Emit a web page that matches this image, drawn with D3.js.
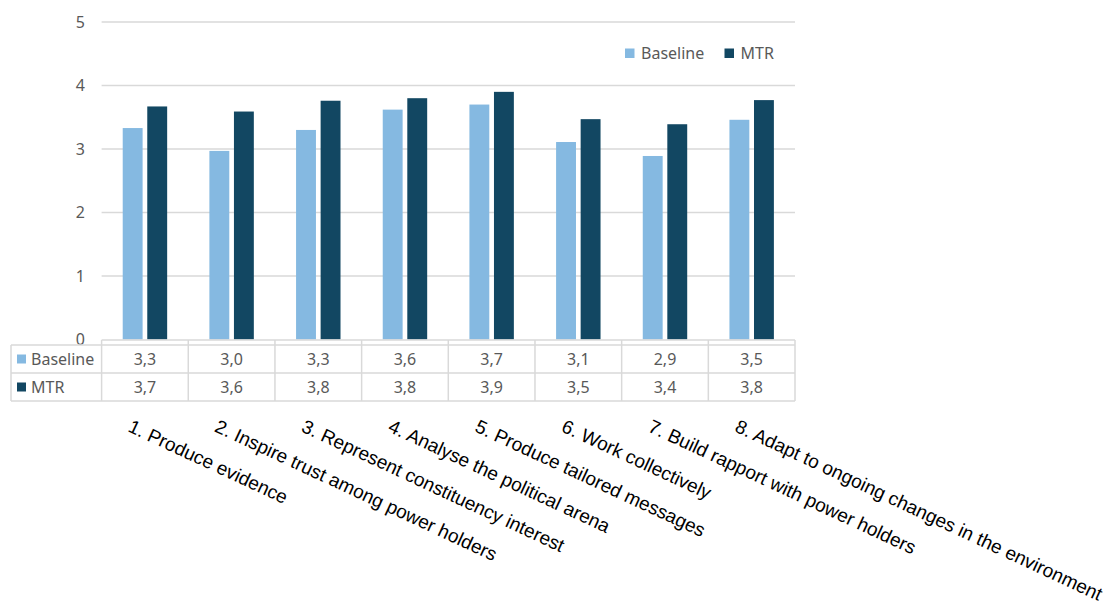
<!DOCTYPE html>
<html>
<head>
  <meta charset="utf-8">
  <title>Baseline vs MTR</title>
  <script src="https://d3js.org/d3.v7.min.js"></script>
  <style>
    body, html {
      margin: 0;
      padding: 0;
      background: #fff;
    }
    svg {
      display: block;
    }
    .tick-label, .cell, .legend-text {
      font-family: "Noto Sans", "Open Sans", sans-serif;
      fill: #595959;
    }
    .cat-label {
      font-family: "Liberation Sans", Arial, sans-serif;
      font-size: 19px;
      fill: #000;
    }
    .grid, .tbl {
      stroke: #d9d9d9;
      stroke-width: 1.5px;
      fill: none;
    }
  </style>
</head>
<body>
<svg width="1117" height="608"></svg>
<script>
  // Categories (x axis) and the two series
  const categories = [
    "1. Produce evidence",
    "2. Inspire trust among power holders",
    "3. Represent constituency interest",
    "4. Analyse the political arena",
    "5. Produce tailored messages",
    "6. Work collectively",
    "7. Build rapport with power holders",
    "8. Adapt to ongoing changes in the environment"
  ];
  const seriesNames = ["Baseline", "MTR"];
  const baseline = [3.33, 2.97, 3.30, 3.62, 3.70, 3.11, 2.89, 3.46];
  const mtr = [3.67, 3.59, 3.76, 3.80, 3.90, 3.47, 3.39, 3.77];
  const yTicks = [0, 1, 2, 3, 4, 5];
  const colors = ["#85b9e1", "#124762"];

  const seriesValues = [baseline, mtr];

  const svg = d3.select("svg");

  // plot area
  const plotLeft = 101.6, plotRight = 795, plotTop = 22, plotBottom = 339.5;
  const tableLeft = 11;
  const rowTop = 345, rowH = 28;

  const x = d3.scaleBand().domain(categories).range([plotLeft, plotRight]);
  const x1 = d3.scaleBand().domain(seriesNames)
    .range([0, x.bandwidth()])
    .paddingInner(0.19)
    .paddingOuter(0.86);
  const y = d3.scaleLinear().domain([0, 5]).range([plotBottom, plotTop]);

  // gridlines
  svg.append("g").selectAll("line")
    .data(yTicks.filter(d => d > 0))
    .join("line")
    .attr("class", "grid")
    .attr("x1", plotLeft).attr("x2", plotRight)
    .attr("y1", d => y(d)).attr("y2", d => y(d));

  // y tick labels
  svg.append("g").selectAll("text")
    .data(yTicks)
    .join("text")
    .attr("class", "tick-label")
    .attr("x", 85)
    .attr("y", d => y(d))
    .attr("dy", "0.35em")
    .attr("text-anchor", "end")
    .style("font-size", "16px")
    .text(d => d);

  // bars
  seriesNames.forEach((s, si) => {
    svg.append("g").selectAll("rect")
      .data(seriesValues[si])
      .join("rect")
      .attr("x", (d, i) => x(categories[i]) + x1(s))
      .attr("width", x1.bandwidth())
      .attr("y", d => y(d))
      .attr("height", d => y(0) - y(d))
      .attr("fill", colors[si]);
  });

  // data table under the plot
  const tbl = svg.append("g");
  // axis line and little category separators
  tbl.append("line").attr("class", "tbl")
    .attr("x1", plotLeft).attr("x2", plotRight)
    .attr("y1", plotBottom + 0.5).attr("y2", plotBottom + 0.5);
  // horizontal row lines
  [0, 1, 2].forEach(r => {
    tbl.append("line").attr("class", "tbl")
      .attr("x1", tableLeft).attr("x2", plotRight)
      .attr("y1", rowTop + r * rowH).attr("y2", rowTop + r * rowH);
  });
  // vertical lines
  const colEdges = categories.map(c => x(c)).concat([plotRight]);
  tbl.selectAll(".vline")
    .data(colEdges)
    .join("line")
    .attr("class", "tbl")
    .attr("x1", d => d).attr("x2", d => d)
    .attr("y1", plotBottom + 0.5).attr("y2", rowTop + 2 * rowH);
  tbl.append("line").attr("class", "tbl")
    .attr("x1", tableLeft).attr("x2", tableLeft)
    .attr("y1", rowTop).attr("y2", rowTop + 2 * rowH);

  const fmt = v => d3.format(".1f")(v).replace(".", ",");

  seriesNames.forEach((s, si) => {
    const cy = rowTop + si * rowH + rowH / 2;
    tbl.append("rect")
      .attr("x", 17).attr("y", cy - 4.5)
      .attr("width", 9).attr("height", 9)
      .attr("fill", colors[si]);
    tbl.append("text")
      .attr("class", "cell")
      .attr("x", 31).attr("y", cy)
      .attr("dy", "0.35em")
      .style("font-size", "16px")
      .text(s);
    tbl.selectAll(".v" + si)
      .data(seriesValues[si])
      .join("text")
      .attr("class", "cell")
      .attr("x", (d, i) => x(categories[i]) + x.bandwidth() / 2)
      .attr("y", cy)
      .attr("dy", "0.35em")
      .attr("text-anchor", "middle")
      .style("font-size", "16px")
      .text(d => fmt(d));
  });

  // rotated category labels
  svg.append("g").selectAll("text")
    .data(categories)
    .join("text")
    .attr("class", "cat-label")
    .attr("transform", d => `translate(${x(d) + x.bandwidth() / 2 - 18},431) rotate(25)`)
    .text(d => d);

  // legend
  const legend = svg.append("g");
  const legendX = [625, 724.5];
  seriesNames.forEach((s, si) => {
    legend.append("rect")
      .attr("x", legendX[si]).attr("y", 48.5)
      .attr("width", 9.5).attr("height", 9.5)
      .attr("fill", colors[si]);
    legend.append("text")
      .attr("class", "legend-text")
      .attr("x", legendX[si] + 16).attr("y", 53.5)
      .attr("dy", "0.35em")
      .style("font-size", "16px")
      .text(s);
  });
</script>
</body>
</html>
